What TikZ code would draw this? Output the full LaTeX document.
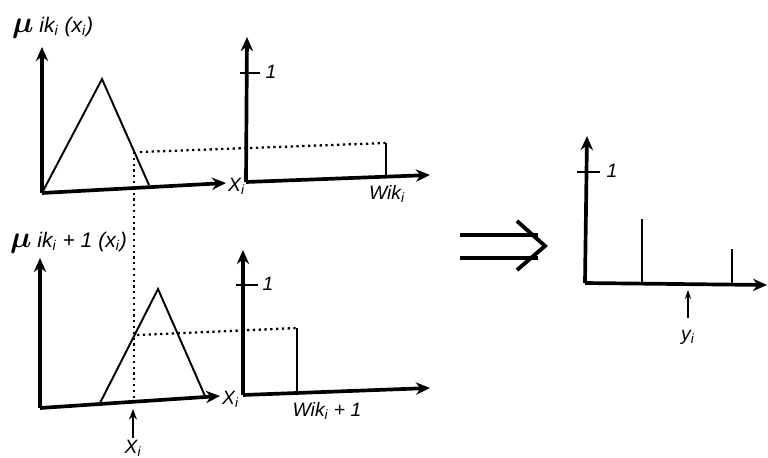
\documentclass[tikz,border=0pt]{standalone}
\usepackage{amsmath}
\usepackage{amssymb}
\usepackage{fontspec}
\setmainfont{Liberation Sans}
\usetikzlibrary{arrows.meta}

\tikzset{
  axis/.style={line width=2.1pt, -{Stealth[length=8pt,width=7pt]}},
  tri/.style={line width=1.1pt, line join=miter},
  bar/.style={line width=0.9pt},
  guide/.style={line width=1.3pt, dash pattern=on 1.3pt off 2pt},
  lbl/.style={font=\itshape\fontsize{11}{12}\selectfont, inner sep=1pt},
  ttl/.style={font=\itshape\fontsize{12}{13}\selectfont, inner sep=1pt}
}
\newcommand{\mub}{{\fontsize{17}{17}\selectfont$\boldsymbol{\mu}$}}
\newcommand{\sub}[1]{\textsubscript{#1}}

\begin{document}
\begin{tikzpicture}[x=0.02cm, y=-0.02cm]
    \useasboundingbox (0,0) rectangle (768,457);
    % upper membership graph
    \coordinate (O1) at (42,193);  \coordinate (Y1) at (42,47);   \coordinate (X1) at (226,183);
    \coordinate (T1a) at (102,79); \coordinate (T1b) at (149,185);
    \coordinate (P1) at (134,152); \coordinate (Q1) at (140,152);
    % upper weight graph
    \coordinate (O2) at (246,182); \coordinate (Y2) at (247,37);  \coordinate (X2) at (430,175);
    \coordinate (R1) at (386,143); \coordinate (S1) at (386,177);
    % lower membership graph
    \coordinate (O3) at (40,408);  \coordinate (Y3) at (40,258);  \coordinate (X3) at (220,396);
    \coordinate (T2l) at (100,403); \coordinate (T2a) at (158,289); \coordinate (T2b) at (205,396);
    \coordinate (P2) at (134,402); \coordinate (Q2) at (137,335);
    % lower weight graph
    \coordinate (O4) at (243,395); \coordinate (Y4) at (243,250); \coordinate (X4) at (430,388);
    \coordinate (R2) at (297,328); \coordinate (S2) at (297,393);
    % result graph
    \coordinate (O5) at (585,283); \coordinate (Y5) at (587,136); \coordinate (X5) at (767,285);

    \draw[axis] (O1) -- (Y1); \draw[axis] (O1) -- (X1);
    \draw[tri] (O1) -- (T1a) -- (T1b);
    \draw[axis] (O2) -- (Y2); \draw[axis] (O2) -- (X2);
    \draw[axis] (O3) -- (Y3); \draw[axis] (O3) -- (X3);
    \draw[tri] (T2l) -- (T2a) -- (T2b);
    \draw[axis] (O4) -- (Y4); \draw[axis] (O4) -- (X4);
    \draw[axis] (O5) -- (Y5); \draw[axis] (O5) -- (X5);

    % projections
    \draw[guide] (P1) -- (P2);
    \draw[guide] (Q1) -- (R1); \draw[bar] (R1) -- (S1);
    \draw[guide] (Q2) -- (R2); \draw[bar] (R2) -- (S2);

    % ticks at 1
    \foreach \a/\b/\h in {240/260/73, 236/258/285, 577/600/172}
        \draw[line width=0.9pt] (\a,\h) -- (\b,\h);
    \node[lbl] (one1) at (271,72) {1};
    \node[lbl] (one2) at (268,284) {1};
    \node[lbl] (one3) at (612,171) {1};

    % singletons of the result
    \draw[bar] (642,219) coordinate (B1) -- (642,283);
    \draw[bar] (732,249) coordinate (B2) -- (732,284);

    % input and output markers
    \node[lbl] (xin) at (133,448) {X\sub{i}};
    \draw[line width=1.3pt, -{Stealth[length=6pt,width=4.5pt]}] (xin.north) -- (133,409);
    \node[lbl] (yout) at (688,337) {y\sub{i}};
    \draw[line width=1pt, -{Stealth[length=5pt,width=3.5pt]}] (688,318) -- (688,290);

    % implication arrow
    \coordinate (D1) at (460,235); \coordinate (D2) at (460,258);
    \coordinate (E1) at (538,235); \coordinate (E2) at (538,258);
    \draw[line width=2.2pt] (D1) -- (E1); \draw[line width=2.2pt] (D2) -- (E2);
    \draw[line width=2.2pt] (517,221) -- (545,246) -- (517,270);

    % axis labels
    \node[lbl, anchor=west] (xa1) at (226,186) {X\sub{i}};
    \node[lbl, anchor=west] (xa2) at (220,399) {X\sub{i}};
    \node[lbl] (w1) at (387,194) {Wik\sub{i}};
    \node[lbl] (w2) at (327,411) {Wik\sub{i} + 1};

    % titles
    \node[ttl, anchor=west] (mu1) at (10,28) {\mub\ ik\sub{i} (x\sub{i})};
    \node[ttl, anchor=west] (mu2) at (8,243) {\mub\ ik\sub{i} + 1 (x\sub{i})};
\end{tikzpicture}
\end{document}
